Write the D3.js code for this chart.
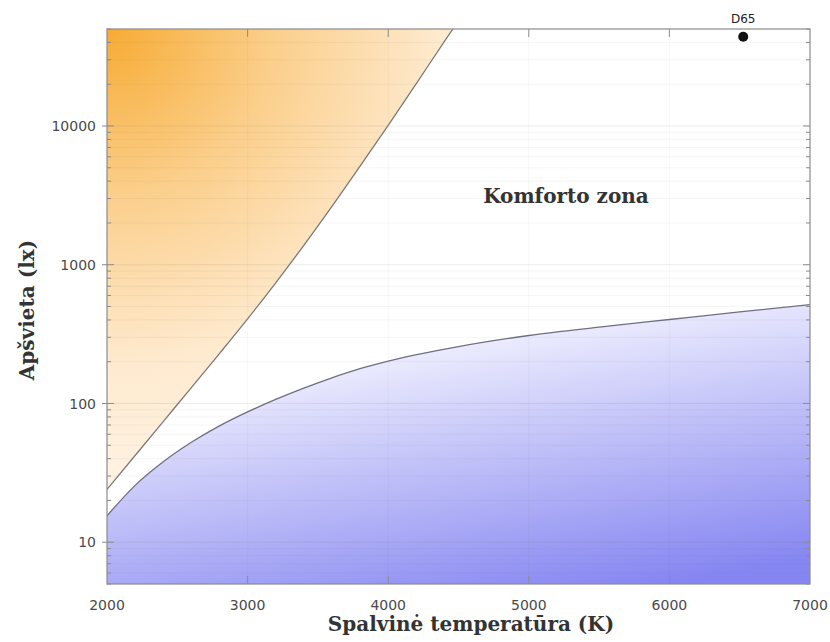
<!DOCTYPE html>
<html><head><meta charset="utf-8">
<script src="https://cdn.jsdelivr.net/npm/d3@7"></script>
<style>body{margin:0;background:#fff}svg{display:block}</style>
</head><body>
<svg id="c" width="830" height="642"></svg>
<script>
// Data
const xTicks = [2000, 3000, 4000, 5000, 6000, 7000];
const yTicks = [10, 100, 1000, 10000];
// Upper boundary (orange region above)
const upperT   = [2000, 2200, 2400, 2600, 2800, 3000, 3200, 3400, 3600, 3800, 4000,  4200,  4400,  4460];
const upperLux = [24,   42.2, 74.1, 130,  229,  407,  741,  1380, 2630, 5130, 10100, 20200, 40700, 50000];
// Lower boundary (blue region below)
const lowerT   = [2000, 2200, 2400, 2600, 2800, 3000, 3200, 3400, 3600, 3800, 4000, 4500, 5000, 5500, 6000, 6500, 7000];
const lowerLux = [15.5, 25.7, 38,   52.5, 69,   87,   107,  129,  153,  178,  202,  257,  309,  355,  403,  457,  515];
const d65 = {T: 6525, lux: 44000, label: "D65"};
const zoneLabel = "Komforto zona";
const xTitle = "Spalvinė temperatūra (K)";
const yTitle = "Apšvieta (lx)";

const L = 107, R = 810, T = 29, B = 584;
const x = d3.scaleLinear([2000, 7000], [L, R]);
const y = d3.scaleLog([5, 50000], [B, T]);

const svg = d3.select("#c");
const defs = svg.append("defs");
defs.append("clipPath").attr("id", "clip").append("rect")
  .attr("x", L).attr("y", T).attr("width", R - L).attr("height", B - T);

const og = defs.append("radialGradient").attr("id", "og").attr("gradientUnits", "userSpaceOnUse")
  .attr("cx", L).attr("cy", T).attr("r", 560).attr("fx", L).attr("fy", T);
og.append("stop").attr("offset", "0").attr("stop-color", "#f7ab33");
og.append("stop").attr("offset", "0.3").attr("stop-color", "#fbcf8c");
og.append("stop").attr("offset", "0.6").attr("stop-color", "#feeacf");
og.append("stop").attr("offset", "1").attr("stop-color", "#fffaf4");

const bg = defs.append("linearGradient").attr("id", "bg").attr("gradientUnits", "userSpaceOnUse")
  .attr("x1", 450).attr("y1", 321).attr("x2", 500).attr("y2", 612);
bg.append("stop").attr("offset", "0").attr("stop-color", "#f5f5ff");
bg.append("stop").attr("offset", "1").attr("stop-color", "#8686f2");

const upper = upperT.map((t, i) => ({t, v: upperLux[i]}));
const lower = lowerT.map((t, i) => ({t, v: lowerLux[i]}));

const plot = svg.append("g").attr("clip-path", "url(#clip)");

plot.append("path").datum(upper)
  .attr("fill", "url(#og)")
  .attr("d", d3.area().x(d => x(d.t)).y0(T).y1(d => y(d.v)).curve(d3.curveMonotoneX));

plot.append("path").datum(lower)
  .attr("fill", "url(#bg)")
  .attr("d", d3.area().x(d => x(d.t)).y0(B).y1(d => y(d.v)).curve(d3.curveMonotoneX));

// grid
const minor = [];
for (let e = 0; e <= 4; e++) for (let m = 1; m <= 9; m++) {
  const v = m * Math.pow(10, e);
  if (v >= 5 && v <= 50000) minor.push(v);
}
plot.append("g").selectAll("line").data(minor).join("line")
  .attr("x1", L).attr("x2", R).attr("y1", d => y(d)).attr("y2", d => y(d))
  .attr("stroke", "#777").attr("stroke-opacity", d => yTicks.includes(d) ? 0.14 : 0.07).attr("stroke-width", 1);
plot.append("g").selectAll("line").data(xTicks.slice(1, -1)).join("line")
  .attr("x1", d => x(d)).attr("x2", d => x(d)).attr("y1", T).attr("y2", B)
  .attr("stroke", "#777").attr("stroke-opacity", 0.06);

// curves
const line = d3.line().x(d => x(d.t)).y(d => y(d.v)).curve(d3.curveMonotoneX);
plot.append("path").datum(upper).attr("fill", "none").attr("stroke", "#7a7a7a").attr("stroke-width", 1.3).attr("d", line);
plot.append("path").datum(lower).attr("fill", "none").attr("stroke", "#6f6f80").attr("stroke-width", 1.3).attr("d", line);

// frame
svg.append("rect").attr("x", L).attr("y", T).attr("width", R - L).attr("height", B - T)
  .attr("fill", "none").attr("stroke", "#8c8c8c").attr("stroke-width", 1.2);

// ticks
const tk = svg.append("g").attr("stroke", "#8c8c8c").attr("stroke-width", 1);
minor.forEach(v => {
  const major = yTicks.includes(v);
  tk.append("line").attr("x1", major ? L - 5 : L).attr("x2", L + (major ? 7 : 4)).attr("y1", y(v)).attr("y2", y(v));
  tk.append("line").attr("x1", R).attr("x2", R - (major ? 7 : 4)).attr("y1", y(v)).attr("y2", y(v));
});
xTicks.slice(1, -1).forEach(v => {
  tk.append("line").attr("x1", x(v)).attr("x2", x(v)).attr("y1", B).attr("y2", B - 8);
  tk.append("line").attr("x1", x(v)).attr("x2", x(v)).attr("y1", T).attr("y2", T + 8);
});

// tick labels
svg.append("g").selectAll("text").data(yTicks).join("text")
  .attr("x", 96).attr("y", d => y(d)).attr("dy", "0.36em").attr("text-anchor", "end")
  .attr("font-family", "DejaVu Sans").attr("font-size", 14).attr("fill", "#4a4a4a")
  .text(d => d);
svg.append("g").selectAll("text").data(xTicks).join("text")
  .attr("x", d => x(d)).attr("y", 610).attr("text-anchor", "middle")
  .attr("font-family", "DejaVu Sans").attr("font-size", 14).attr("fill", "#4a4a4a")
  .text(d => d);

// titles
svg.append("text").attr("x", 471).attr("y", 631).attr("text-anchor", "middle")
  .attr("font-family", "DejaVu Serif").attr("font-size", 20).attr("font-weight", "bold").attr("fill", "#333")
  .text(xTitle);
svg.append("text").attr("transform", "translate(34,310) rotate(-90)").attr("text-anchor", "middle")
  .attr("font-family", "DejaVu Serif").attr("font-size", 20).attr("font-weight", "bold").attr("fill", "#333")
  .text(yTitle);
svg.append("text").attr("x", 566).attr("y", 203).attr("text-anchor", "middle")
  .attr("font-family", "DejaVu Serif").attr("font-size", 20).attr("font-weight", "bold").attr("fill", "#333")
  .text(zoneLabel);

// D65
svg.append("circle").attr("cx", x(d65.T)).attr("cy", y(d65.lux)).attr("r", 5).attr("fill", "#111");
svg.append("text").attr("x", x(d65.T)).attr("y", 23).attr("text-anchor", "middle")
  .attr("font-family", "DejaVu Sans").attr("font-size", 12).attr("fill", "#222").text(d65.label);
</script>
</body></html>
